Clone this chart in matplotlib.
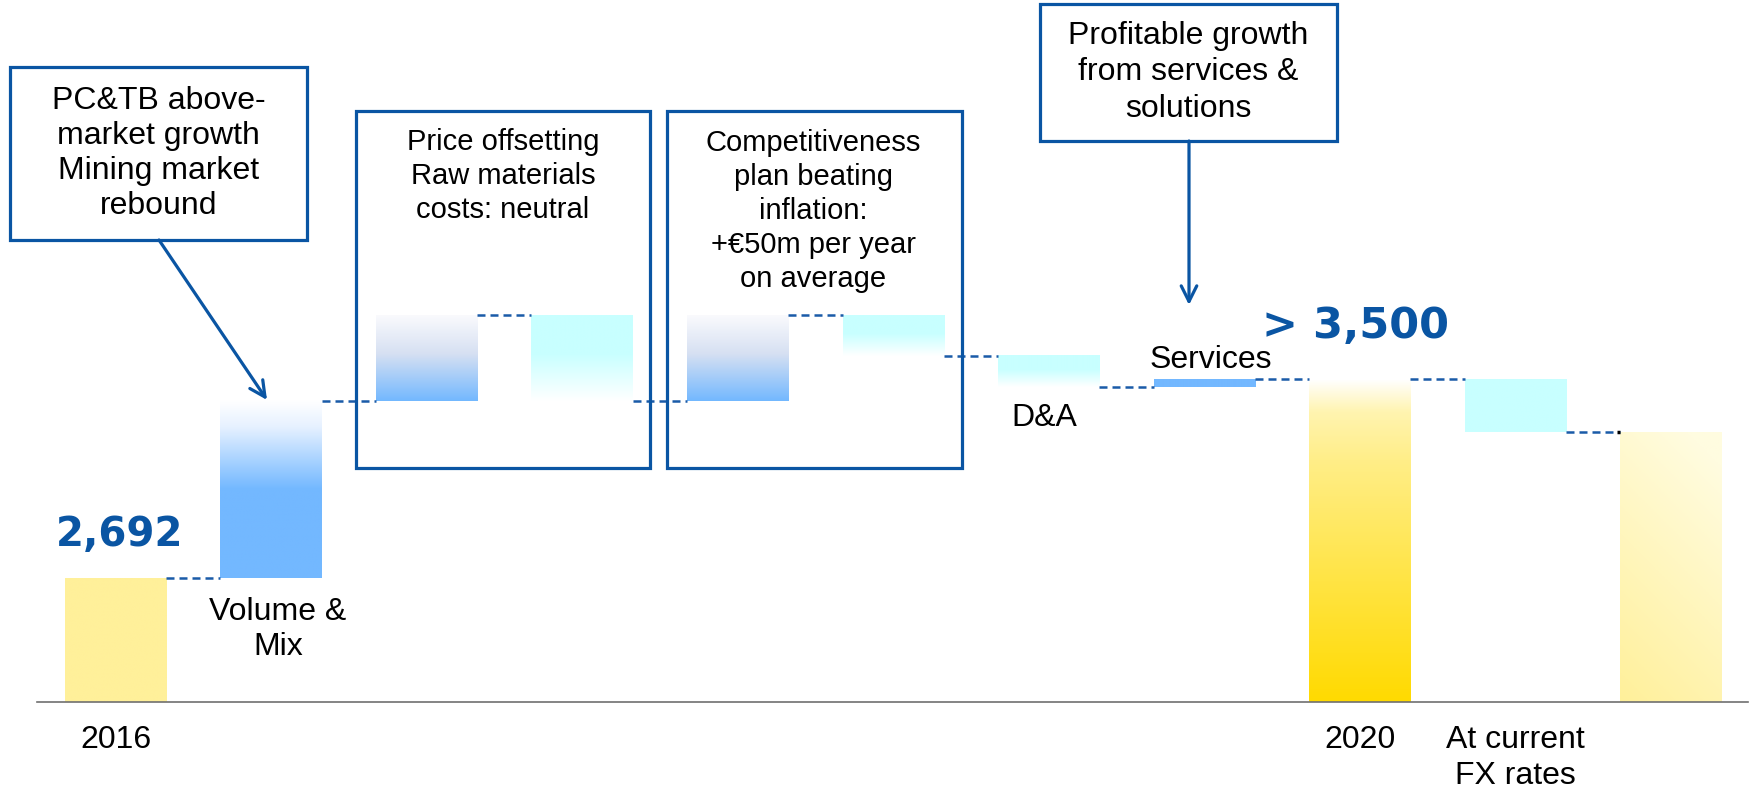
"""Pont EBITDA 2016 -> 2020 (waterfall) avec encadrés explicatifs."""

import numpy as np
import matplotlib
matplotlib.use("Agg")
import matplotlib.pyplot as plt
from matplotlib.colors import LinearSegmentedColormap
from matplotlib.patches import Rectangle

plt.rcParams["font.family"] = ["Liberation Sans", "DejaVu Sans"]

# --- données (axe tronqué) ---
categories = ["2016", "Volume &\nMix", "Price offsetting", "Raw materials",
              "Competitiveness", "Inflation", "D&A", "Services",
              "2020", "At current\nFX rates", "2020 @ FX"]
start_2016 = 2692
deltas = [719, 349, -349, 349, -166, -126, 32]
total_2020 = 3500
fx_delta = -215
label_2016 = "2,692"
label_2020 = "> 3,500"

Y_MIN, Y_MAX = 2189, 5039   # axe tronqué
W, H = 1760, 791
BLUE = "#0A55A3"
DASH = "#1A5BA8"

# styles de remplissage, un par barre (haut -> bas)
grad_styles = {
    "yellow": [(0, "#FFF09A"), (1, "#FFF09A")],
    "blue_up": [(0, "#FFFFFF"), (0.15, "#E6F1FF"), (0.5, "#73B8FF"), (1, "#73B8FF")],
    "blue_grey": [(0, "#FAFAFD"), (0.45, "#D6E0F2"), (1, "#73B8FF")],
    "cyan_fade": [(0, "#C8FFFF"), (0.45, "#C8FFFF"), (1, "#FFFFFF")],
    "cyan": [(0, "#C8FFFF"), (1, "#C8FFFF")],
    "blue": [(0, "#73B8FF"), (1, "#73B8FF")],
    "gold": [(0, "#FFFFFF"), (0.1, "#FFF4B0"), (0.25, "#FFEE88"), (1, "#FFDA00")],
    "pale": [(0, "#FFFCE0"), (1, "#FFF09A")],
}
bar_styles = ["yellow", "blue_up", "blue_grey", "cyan_fade", "blue_grey",
              "cyan_fade", "cyan_fade", "blue", "gold", "cyan", "pale"]


def px(x, y):
    """pixels (origine en haut à gauche) -> fraction de figure"""
    return x / W, 1 - y / H


# bas / haut de chaque barre + niveau cumulé
bottoms, tops, levels = [Y_MIN], [start_2016], [start_2016]
level = start_2016
for d in deltas:
    bottoms.append(min(level, level + d))
    tops.append(max(level, level + d))
    level += d
    levels.append(level)
bottoms.append(Y_MIN); tops.append(total_2020); levels.append(total_2020)
bottoms.append(total_2020 + fx_delta); tops.append(total_2020); levels.append(total_2020 + fx_delta)
bottoms.append(Y_MIN); tops.append(total_2020 + fx_delta); levels.append(total_2020 + fx_delta)

fig = plt.figure(figsize=(W / 100, H / 100), dpi=100)
ax = fig.add_axes([37 / W, 89 / H, (1748 - 37) / W, 702 / H])
xs = np.arange(len(categories))
bw = 0.65

for i, style in enumerate(bar_styles):
    cmap = LinearSegmentedColormap.from_list(style, grad_styles[style])
    if style == "pale":
        yy, xx = np.mgrid[0:1:256j, 0:1:64j]
        arr = np.clip(0.8 * yy + 0.3 * (1 - xx) - 0.1, 0, 1)
    else:
        arr = np.linspace(0, 1, 256).reshape(-1, 1)
    ax.imshow(arr, cmap=cmap, vmin=0, vmax=1, aspect="auto", origin="upper",
              interpolation="bilinear",
              extent=(xs[i] - bw / 2, xs[i] + bw / 2, bottoms[i], tops[i]))

# lignes pointillées de liaison
for i in range(len(categories) - 1):
    ax.plot([xs[i] + bw / 2, xs[i + 1] - bw / 2], [levels[i], levels[i]],
            color=DASH, lw=1.8, dashes=(3.2, 2.0))
# petit trait noir en bout de la dernière liaison
ax.plot([xs[10] - bw / 2 - 0.02, xs[10] - bw / 2], [levels[9], levels[9]],
        color="black", lw=2.5, solid_capstyle="butt")

ax.set_xlim(-0.505, 10.498)
ax.set_ylim(Y_MIN, Y_MAX)
for s in ["top", "left", "right"]:
    ax.spines[s].set_visible(False)
ax.spines["bottom"].set_color("#707070")
ax.spines["bottom"].set_linewidth(1.2)
ax.set_xticks([])
ax.set_yticks([])
ax.patch.set_alpha(0)

# étiquettes de catégories (décalages en points)
lab_fs = 23
ax.annotate(categories[0], (xs[0], Y_MIN), xytext=(0, -27), textcoords="offset points",
            ha="center", va="center", fontsize=lab_fs)
ax.annotate(categories[1], (xs[1], bottoms[1]), xytext=(5, -37), textcoords="offset points",
            ha="center", va="center", fontsize=lab_fs, linespacing=1.19)
ax.annotate(categories[6], (xs[6], bottoms[6]), xytext=(-3, -22), textcoords="offset points",
            ha="center", va="center", fontsize=lab_fs)
ax.annotate(categories[7], (xs[7], tops[7]), xytext=(5, 14), textcoords="offset points",
            ha="center", va="center", fontsize=lab_fs)
ax.annotate(categories[8], (xs[8], Y_MIN), xytext=(0, -27), textcoords="offset points",
            ha="center", va="center", fontsize=lab_fs)
ax.annotate(categories[9], (xs[9], Y_MIN), xytext=(0, -40), textcoords="offset points",
            ha="center", va="center", fontsize=lab_fs, linespacing=1.26)

# valeurs en gras
ax.annotate(label_2016, (xs[0], tops[0]), xytext=(3, 31), textcoords="offset points",
            ha="center", va="center", fontsize=29, fontweight="bold", color=BLUE,
            family="DejaVu Sans")
ax.annotate(label_2020, (xs[8], tops[8]), xytext=(-3, 38), textcoords="offset points",
            ha="center", va="center", fontsize=31, fontweight="bold", color=BLUE,
            family="DejaVu Sans")

# encadrés explicatifs (positions en pixels)
boxes = [
    ((10, 67, 307, 240), "PC&TB above-\nmarket growth\nMining market\nrebound", 23, 1.23),
    ((356, 111, 650, 468), None, 21, 1.2),
    ((667, 111, 962, 468), None, 21, 1.2),
    ((1040, 4, 1337, 141), "Profitable growth\nfrom services &\nsolutions", 23, 1.28),
]
for (x0, y0, x1, y1), txt, fs, ls in boxes:
    fx0, fy1 = px(x0, y1)
    fx1, fy0 = px(x1, y0)
    fig.patches.append(Rectangle((fx0, fy1), fx1 - fx0, fy0 - fy1, transform=fig.transFigure,
                                 fill=False, edgecolor=BLUE, lw=2.3, zorder=5))
    if txt:
        fig.text((fx0 + fx1) / 2, (fy0 + fy1) / 2, txt, ha="center", va="center",
                 fontsize=fs, linespacing=ls)

fig.text(*px(503, 176), "Price offsetting\nRaw materials\ncosts: neutral",
         ha="center", va="center", fontsize=21, linespacing=1.27)
fig.text(*px(813, 211), "Competitiveness\nplan beating\ninflation:\n+€50m per year\non average",
         ha="center", va="center", fontsize=21, linespacing=1.27)

# flèches
arrow_kw = dict(arrowstyle="->", lw=2.3, color=BLUE, mutation_scale=28, shrinkA=0, shrinkB=0)
ax.annotate("", xy=px(267, 400), xytext=px(159, 240), xycoords="figure fraction",
            textcoords="figure fraction", arrowprops=arrow_kw)
ax.annotate("", xy=px(1189, 305), xytext=px(1189, 141), xycoords="figure fraction",
            textcoords="figure fraction", arrowprops=arrow_kw)

fig.savefig("out.png", dpi=100)
